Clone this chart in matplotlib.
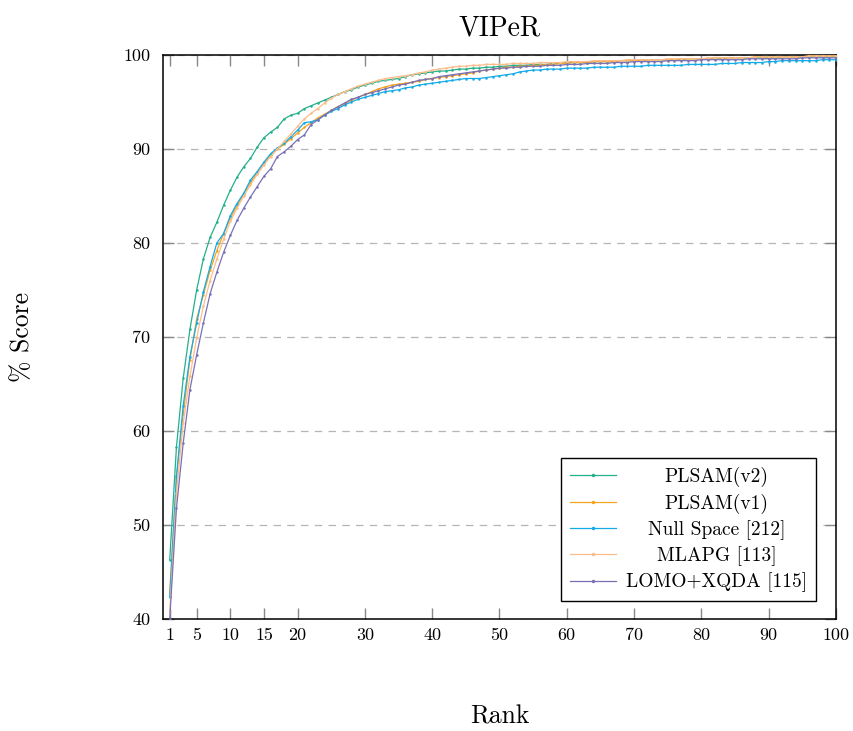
import numpy as np
import matplotlib
matplotlib.use("Agg")
import matplotlib.pyplot as plt

plt.rcParams['font.family'] = ['cmr10', 'DejaVu Serif']
plt.rcParams['axes.formatter.use_mathtext'] = True

ranks = list(range(1, 101))

plsam_v2 = [46.3, 58.3, 65.6, 70.8, 75.0, 78.3, 80.6, 82.2, 84.0, 85.6,
            87.0, 88.1, 89.0, 90.2, 91.2, 91.8, 92.3, 93.2, 93.6, 93.8,
            94.3, 94.6, 94.9, 95.2, 95.5, 95.8, 96.1, 96.3, 96.6, 96.8,
            97.0, 97.2, 97.3, 97.4, 97.5, 97.7, 97.9, 98.0, 98.1, 98.2,
            98.3, 98.3, 98.4, 98.5, 98.5, 98.6, 98.6, 98.7, 98.7, 98.8,
            98.8, 98.9, 98.9, 98.9, 99.0, 99.0, 99.0, 99.1, 99.1, 99.2,
            99.2, 99.2, 99.2, 99.3, 99.3, 99.3, 99.3, 99.4, 99.4, 99.4,
            99.4, 99.5, 99.5, 99.5, 99.5, 99.5, 99.5, 99.6, 99.6, 99.6,
            99.6, 99.6, 99.6, 99.7, 99.7, 99.7, 99.7, 99.7, 99.7, 99.7,
            99.7, 99.8, 99.8, 99.8, 99.8, 99.8, 99.8, 99.8, 99.8, 99.8]

plsam_v1 = [42.8, 55.0, 61.8, 67.6, 71.9, 74.5, 77.1, 79.2, 81.0, 82.6,
            84.0, 85.2, 86.4, 87.5, 88.5, 89.4, 90.0, 90.5, 91.1, 91.7,
            92.3, 92.8, 93.3, 93.7, 94.1, 94.5, 94.8, 95.2, 95.5, 95.8,
            96.1, 96.4, 96.6, 96.8, 96.9, 97.0, 97.1, 97.2, 97.4, 97.5,
            97.6, 97.7, 97.8, 97.9, 98.0, 98.1, 98.3, 98.4, 98.5, 98.6,
            98.7, 98.7, 98.8, 98.8, 98.9, 98.9, 99.0, 99.0, 99.1, 99.1,
            99.2, 99.2, 99.2, 99.3, 99.3, 99.3, 99.3, 99.4, 99.4, 99.4,
            99.4, 99.5, 99.5, 99.5, 99.5, 99.5, 99.6, 99.6, 99.6, 99.6,
            99.6, 99.7, 99.7, 99.7, 99.7, 99.7, 99.7, 99.8, 99.8, 99.8,
            99.8, 99.8, 99.8, 99.8, 99.8, 99.9, 99.9, 99.9, 99.9, 99.9]

null_space = [42.3, 55.2, 62.7, 67.9, 71.5, 74.8, 77.5, 80.0, 81.0, 82.9,
              84.2, 85.3, 86.7, 87.6, 88.6, 89.5, 90.1, 90.6, 91.3, 92.0,
              92.8, 92.9, 93.1, 93.6, 94.0, 94.3, 94.7, 95.0, 95.3, 95.5,
              95.7, 95.9, 96.1, 96.2, 96.3, 96.5, 96.6, 96.8, 96.9, 97.0,
              97.1, 97.2, 97.3, 97.4, 97.5, 97.5, 97.5, 97.6, 97.7, 97.8,
              97.9, 98.0, 98.2, 98.3, 98.4, 98.4, 98.5, 98.5, 98.5, 98.6,
              98.6, 98.6, 98.6, 98.7, 98.7, 98.7, 98.7, 98.8, 98.8, 98.8,
              98.8, 98.9, 98.9, 98.9, 98.9, 98.9, 98.9, 99.0, 99.0, 99.0,
              99.0, 99.0, 99.1, 99.1, 99.1, 99.2, 99.2, 99.2, 99.2, 99.3,
              99.3, 99.4, 99.4, 99.4, 99.4, 99.4, 99.4, 99.5, 99.5, 99.5]

mlapg = [40.7, 53.4, 60.8, 65.8, 69.9, 73.3, 76.0, 78.3, 80.4, 82.3,
         83.7, 85.0, 86.2, 87.3, 88.3, 89.2, 90.0, 90.8, 91.6, 92.4,
         93.2, 93.8, 94.3, 94.9, 95.4, 95.8, 96.1, 96.4, 96.7, 96.9,
         97.1, 97.3, 97.5, 97.6, 97.7, 97.8, 97.9, 98.1, 98.2, 98.4,
         98.5, 98.6, 98.7, 98.8, 98.8, 98.9, 98.9, 99.0, 99.0, 99.0,
         99.0, 99.1, 99.1, 99.1, 99.1, 99.2, 99.2, 99.2, 99.2, 99.3,
         99.3, 99.3, 99.3, 99.4, 99.4, 99.4, 99.4, 99.4, 99.5, 99.5,
         99.5, 99.5, 99.5, 99.5, 99.6, 99.6, 99.6, 99.6, 99.6, 99.6,
         99.7, 99.7, 99.7, 99.7, 99.7, 99.7, 99.7, 99.8, 99.8, 99.8,
         99.8, 99.8, 99.8, 99.8, 99.8, 99.9, 99.9, 99.9, 99.9, 99.9]

lomo_xqda = [40.0, 51.8, 58.7, 64.4, 68.1, 71.5, 74.6, 76.9, 79.0, 80.8,
             82.4, 83.7, 84.9, 86.0, 87.1, 87.9, 89.2, 89.7, 90.3, 91.0,
             91.5, 92.6, 93.1, 93.6, 94.1, 94.5, 94.9, 95.3, 95.5, 95.8,
             96.0, 96.2, 96.4, 96.6, 96.8, 96.9, 97.1, 97.3, 97.4, 97.5,
             97.7, 97.8, 97.9, 98.0, 98.1, 98.2, 98.3, 98.4, 98.5, 98.6,
             98.6, 98.7, 98.7, 98.8, 98.8, 98.8, 98.9, 98.9, 98.9, 99.0,
             99.0, 99.0, 99.1, 99.1, 99.1, 99.1, 99.2, 99.2, 99.2, 99.3,
             99.3, 99.3, 99.3, 99.3, 99.4, 99.4, 99.4, 99.4, 99.4, 99.5,
             99.5, 99.5, 99.5, 99.5, 99.5, 99.5, 99.6, 99.6, 99.6, 99.6,
             99.6, 99.6, 99.6, 99.6, 99.7, 99.7, 99.7, 99.7, 99.7, 99.7]

series_names = ["PLSAM(v2)", "PLSAM(v1)", "Null Space [212]", "MLAPG [113]", "LOMO+XQDA [115]"]
series_values = [plsam_v2, plsam_v1, null_space, mlapg, lomo_xqda]
colors = ["#22b08a", "#f5a31c", "#12abe8", "#fcbd8c", "#7871b6"]

x_ticks = [1, 5, 10, 15, 20, 30, 40, 50, 60, 70, 80, 90, 100]
y_ticks = [40, 50, 60, 70, 80, 90, 100]

fig = plt.figure(figsize=(8.54, 7.31), dpi=100)
ax = fig.add_axes([163 / 854, 1 - 619 / 731, (836 - 163) / 854, (619 - 55) / 731])

for name, vals, c in zip(series_names, series_values, colors):
    ax.plot(ranks, vals, color=c, lw=0.9, marker='o', markersize=1.8,
            markeredgewidth=0, label=name, zorder=3)

ax.set_xlim(0, 100)
ax.set_ylim(40, 100)
ax.set_xticks(x_ticks, [str(t) for t in x_ticks])
ax.set_yticks(y_ticks, [str(t) for t in y_ticks])
ax.tick_params(axis='both', direction='in', length=8, width=1, color='#888888',
               labelsize=13, top=True, right=True)
ax.tick_params(axis='x', pad=6)
ax.tick_params(axis='y', pad=9)
ax.yaxis.grid(True, linestyle=(0, (6, 5)), color='#b5b5b5', lw=0.9)
ax.set_axisbelow(True)
for s in ax.spines.values():
    s.set_linewidth(1.1)
    s.set_color('black')

ax.set_title("VIPeR", fontsize=20, pad=14)
ax.set_xlabel("Rank", fontsize=18.5)
ax.set_ylabel("% Score", fontsize=18.5)
ax.xaxis.set_label_coords(0.5, -0.152)
ax.yaxis.set_label_coords(-0.192, 0.5)

leg = ax.legend(loc='lower right', bbox_to_anchor=(0.970, 0.032), borderaxespad=0,
                fontsize=14, frameon=True, fancybox=False, edgecolor='black',
                framealpha=1, handlelength=2.4, handletextpad=0.5, labelspacing=0.33,
                numpoints=1, borderpad=0.45)
leg.get_frame().set_linewidth(1.0)
for h in leg.get_lines():
    h.set_markersize(2.5)

fig.canvas.draw()
r = fig.canvas.get_renderer()
texts = leg.get_texts()
widths = [t.get_window_extent(r).width for t in texts]
W = max(widths)
for t, w in zip(texts, widths):
    t.set_x((W - w) / 2)

fig.savefig("out.png", dpi=100)
